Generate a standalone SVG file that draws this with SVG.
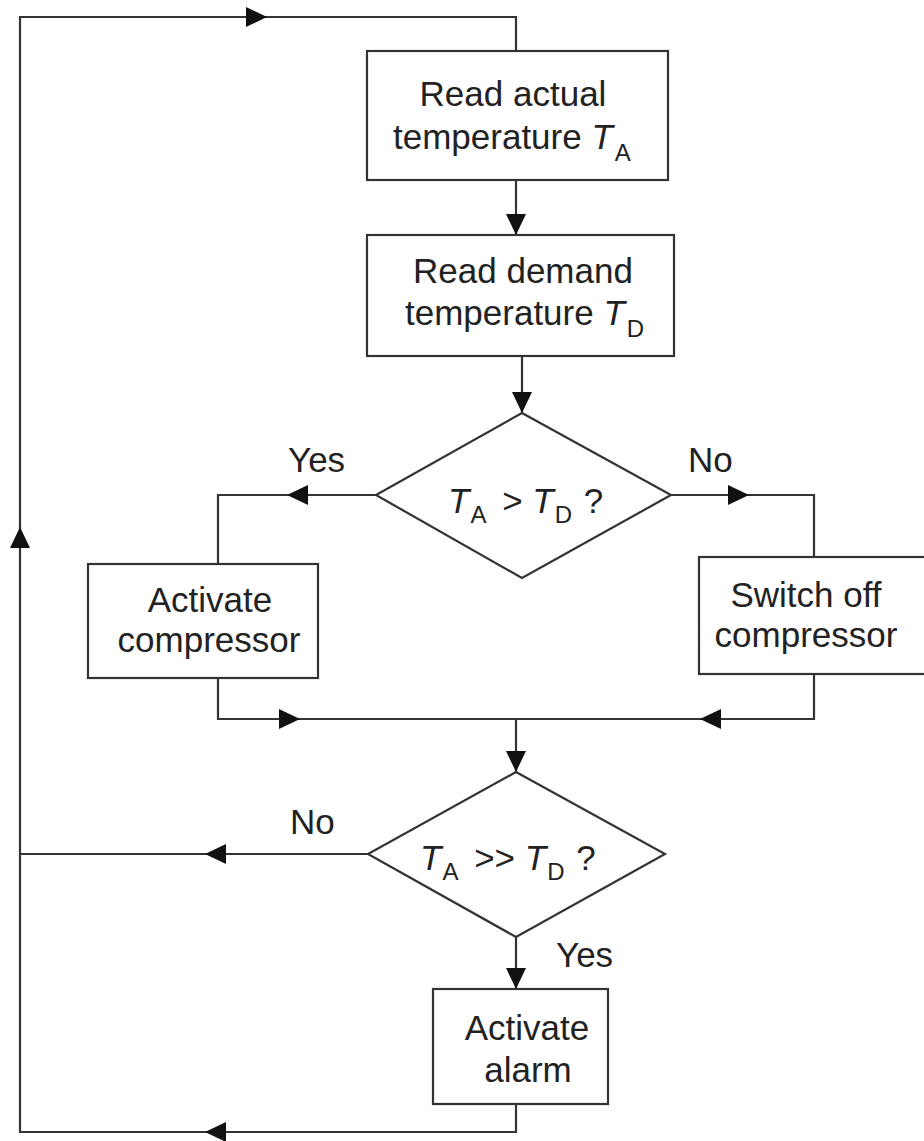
<svg xmlns="http://www.w3.org/2000/svg" xmlns:xlink="http://www.w3.org/1999/xlink" width="924" height="1141" viewBox="0 0 924 1141">
<style>
.shape{fill:#fff;stroke:#333;stroke-width:2.2}
.conn{fill:none;stroke:#333;stroke-width:2.2}
.ah{fill:#111}
text{font-family:"Liberation Sans",Arial,sans-serif;font-size:35px;fill:#222}
.it{font-style:italic}
.sub{font-size:24px}
</style>
<defs>
<path id="ah" d="M0,0 L-21,-10 L-21,10 Z"/>
</defs>
<rect width="924" height="1141" fill="#fff"/>
<g id="connectors">
<path class="conn" d="M516,180 V235"/>
<path class="conn" d="M522,356 V413"/>
<path class="conn" d="M376,495 H218 V564"/>
<path class="conn" d="M671,495 H814 V557"/>
<path class="conn" d="M218,678 V719 H814 V674"/>
<path class="conn" d="M516,719 V772"/>
<path class="conn" d="M368,854 H20"/>
<path class="conn" d="M516,937 V989"/>
<path class="conn" d="M516,1104 V1132 H20 V17 H516 V51"/>
<g class="ah">
<use xlink:href="#ah" transform="translate(267,17)"/>
<use xlink:href="#ah" transform="translate(20,527) rotate(-90)"/>
<use xlink:href="#ah" transform="translate(516,235) rotate(90)"/>
<use xlink:href="#ah" transform="translate(522,413) rotate(90)"/>
<use xlink:href="#ah" transform="translate(287,495) rotate(180)"/>
<use xlink:href="#ah" transform="translate(749,495)"/>
<use xlink:href="#ah" transform="translate(300,719)"/>
<use xlink:href="#ah" transform="translate(700,719) rotate(180)"/>
<use xlink:href="#ah" transform="translate(516,772) rotate(90)"/>
<use xlink:href="#ah" transform="translate(205,854) rotate(180)"/>
<use xlink:href="#ah" transform="translate(516,989) rotate(90)"/>
<use xlink:href="#ah" transform="translate(205,1132) rotate(180)"/>
</g>
<text x="288" y="472">Yes</text>
<text x="688" y="472">No</text>
<text x="290" y="834">No</text>
<text x="556" y="967">Yes</text>
</g>
<g id="read-actual">
<rect class="shape" x="367" y="51" width="301" height="129"/>
<text x="513" y="106" text-anchor="middle">Read actual</text>
<text x="393" y="149">temperature <tspan class="it">T</tspan><tspan class="sub" dx="2" dy="12">A</tspan></text>
</g>
<g id="read-demand">
<rect class="shape" x="367" y="235" width="307" height="121"/>
<text x="523" y="283" text-anchor="middle">Read demand</text>
<text x="405" y="325">temperature <tspan class="it">T</tspan><tspan class="sub" dx="2" dy="12">D</tspan></text>
</g>
<g id="decision-1">
<polygon class="shape" points="522,413 671,495 522,578 376,495"/>
<text x="448" y="513"><tspan class="it">T</tspan><tspan class="sub" dx="1" dy="10">A</tspan><tspan dx="6" dy="-10"> &gt; </tspan><tspan class="it">T</tspan><tspan class="sub" dx="1" dy="10">D</tspan><tspan dx="2" dy="-10"> ?</tspan></text>
</g>
<g id="activate-compressor">
<rect class="shape" x="88" y="564" width="230" height="114"/>
<text x="210" y="612" text-anchor="middle">Activate</text>
<text x="209" y="652" text-anchor="middle">compressor</text>
</g>
<g id="switch-off-compressor">
<rect class="shape" x="699" y="557" width="240" height="117"/>
<text x="806" y="607" text-anchor="middle">Switch off</text>
<text x="806" y="647" text-anchor="middle">compressor</text>
</g>
<g id="decision-2">
<polygon class="shape" points="516,772 665,854 516,937 368,854"/>
<text x="420" y="870"><tspan class="it">T</tspan><tspan class="sub" dx="1" dy="10">A</tspan><tspan dx="6" dy="-10"> &gt;&gt; </tspan><tspan class="it">T</tspan><tspan class="sub" dx="1" dy="10">D</tspan><tspan dx="2" dy="-10"> ?</tspan></text>
</g>
<g id="activate-alarm">
<rect class="shape" x="433" y="989" width="175" height="115"/>
<text x="527" y="1040" text-anchor="middle">Activate</text>
<text x="528" y="1082" text-anchor="middle">alarm</text>
</g>
</svg>
